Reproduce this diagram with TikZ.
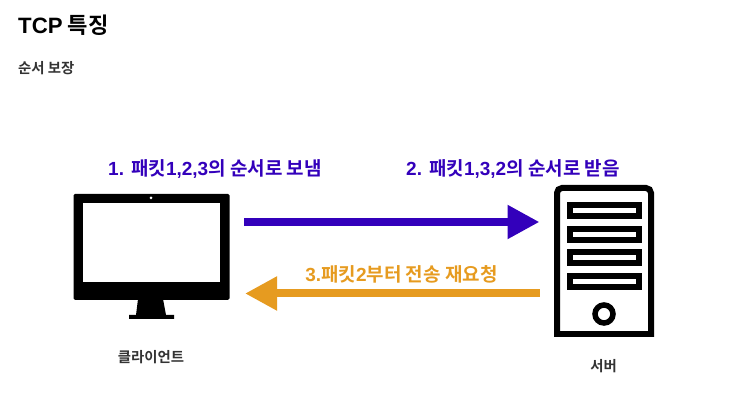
\documentclass[tikz,border=0pt]{standalone}
\usepackage{fontspec}
\usepackage{xcolor}
\usetikzlibrary{arrows.meta, positioning}
\setmainfont{Noto Sans CJK KR}[BoldFont={Noto Sans CJK KR Bold}]
\newfontfamily\latinfont{Liberation Sans}[BoldFont={Liberation Sans Bold}]
\newcommand{\lt}[1]{{\latinfont #1}}
\definecolor{sendblue}{HTML}{3300BB}
\definecolor{resendorange}{HTML}{E69B20}
\definecolor{labelgray}{HTML}{333333}

\begin{document}
\begin{tikzpicture}[
    x=1pt, y=-1pt,
    every node/.style={inner sep=0pt, font=\bfseries},
    title/.style={anchor=west, font=\bfseries\fontsize{22.2}{26}\selectfont},
    subtitle/.style={anchor=west, text=labelgray, font=\bfseries\fontsize{14.4}{17}\selectfont},
    caption/.style={text=labelgray, font=\bfseries\fontsize{14.4}{17}\selectfont},
    steplabel/.style={font=\bfseries\fontsize{19}{23}\selectfont},
    flow/.style={line width=8pt, -{Triangle[length=32pt, width=32pt]}}
]
\useasboundingbox (0,0) rectangle (745,419);
\node[title] (heading) at (18,25) {\lt{TCP} 특징};
\node[subtitle] (topic) at (18,68) {순서 보장};

% monitor
\node[fill=black, rounded corners=1.5pt, minimum width=156pt, minimum height=106pt] (client) at (151.5,247) {};
\node[fill=white, minimum width=137.5pt, minimum height=78.5pt] (screen) at (151.25,242.75) {};
\node[circle, fill=white, minimum size=3pt] (camera) at (151,198) {};
\fill (138,299) -- (163,299) -- (166,315) -- (174,315) -- (174,319) -- (129,319) -- (129,315) -- (136,315) -- cycle;
\node[caption] (clientlabel) at (151,357) {클라이언트};

% server
\draw[line width=6pt, rounded corners=5pt] (557,337) -- (557,188) -- (651,188) -- (651,337);
\draw[line width=6pt] (554,334) -- (654,334);
\node[draw, line width=6pt, minimum width=69pt, minimum height=11.5pt] (slot a) at (604.5,210.5) {};
\node[draw, line width=6pt, minimum width=69pt, minimum height=11.5pt] (slot b) at (604.5,234.5) {};
\node[draw, line width=6pt, minimum width=69pt, minimum height=11.5pt] (slot c) at (604.5,257.5) {};
\node[draw, line width=6pt, minimum width=69pt, minimum height=11.5pt] (slot d) at (604.5,281.5) {};
\node[circle, draw, line width=5.5pt, minimum size=18pt] (button) at (604,314) {};
\node[caption] (serverlabel) at (603.5,366) {서버};

% arrows
\coordinate (send start) at (244,222);
\coordinate (send end) at (539.5,222);
\coordinate (back start) at (539.5,293.5);
\coordinate (back end) at (245,293.5);
\draw[flow, sendblue] (send start) -- (send end);
\draw[flow, resendorange] (back start) -- (back end);

\node[steplabel, text=sendblue] (step one) at (215,169) {\lt{1. }패킷\lt{1,2,3}의 순서로 보냄};
\node[steplabel, text=sendblue] (step two) at (513,169) {\lt{2. }패킷\lt{1,3,2}의 순서로 받음};
\node[steplabel, text=resendorange] (step three) at (401.5,274) {\lt{3.}패킷\lt{2}부터 전송 재요청};
\end{tikzpicture}
\end{document}
